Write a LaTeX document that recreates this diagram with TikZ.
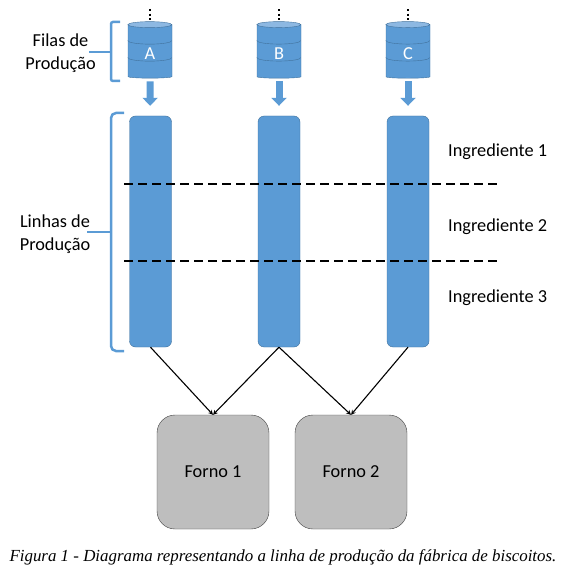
\documentclass[tikz,border=0pt]{standalone}
\usepackage{fontspec}
\setmainfont{Carlito}
\newfontfamily\legendafont{Liberation Serif}
\usetikzlibrary{shapes,arrows,arrows.meta}
\definecolor{azul}{HTML}{5B9BD5}
\definecolor{azulclaro}{HTML}{8DB8E2}
\definecolor{azulborda}{HTML}{41719C}
\definecolor{cinza}{HTML}{BEBEBE}

\begin{document}
\begin{tikzpicture}[x=1pt, y=1pt, node distance=180pt]
    % estilos dos nos
    \tikzstyle{fila} = [cylinder, shape border rotate=90, aspect=0.28, minimum width=44pt, minimum height=55pt, inner sep=0pt, text height=16pt, draw=azulborda, fill=azul, text=white, font=\fontsize{18.3}{18.3}\selectfont]
    \tikzstyle{linha} = [rectangle, rounded corners=6pt, minimum width=42pt, minimum height=231pt, draw=azulborda, fill=azul]
    \tikzstyle{forno} = [rectangle, rounded corners=18pt, minimum width=112pt, minimum height=114pt, text centered, draw=black!75, fill=cinza, font=\fontsize{18.3}{18.3}\selectfont]
    \tikzstyle{rotulo} = [align=center, inner sep=0pt, font=\fontsize{18.3}{23}\selectfont]
    \tikzstyle{bloco} = [azul, line width=7pt, -{Triangle[width=15pt,length=8pt]}, shorten <=3pt, shorten >=10pt]
    \tikzstyle{arrow} = [line width=1.1pt,->,>=stealth]
    \tikzstyle{chave} = [azul, line width=2.5pt]
    \tikzstyle{corte} = [line width=2pt, dash pattern=on 9pt off 5pt]

    \useasboundingbox (0,0) rectangle (571,-572);

    % filas e linhas
    \node [fila] (filaA) at (150,-51.5) {A};
    \node [fila, right of=filaA, xshift=-51pt] (filaB) {B};
    \node [fila, right of=filaB, xshift=-51pt] (filaC) {C};
    \node [linha] (linhaA) at (150.5,-231.5) {};
    \node [linha, right of=linhaA, xshift=-51.5pt] (linhaB) {};
    \node [linha, right of=linhaB, xshift=-51pt] (linhaC) {};

    % fornos
    \node [forno] (forno1) at (213,-472) {\raisebox{-1pt}{Forno 1}};
    \node [forno, right of=forno1, xshift=-42pt] (forno2) {\raisebox{-1pt}{Forno 2}};

    % faixas dos cilindros e pontos
    \foreach \f in {filaA,filaB,filaC} {
        \draw [azulborda, fill=azulclaro] (\f.before top) arc[start angle=180, end angle=-180, x radius=22pt, y radius=3pt];
        \draw [azulborda] ([yshift=-16pt]\f.before top) arc[start angle=180, end angle=360, x radius=22pt, y radius=3.5pt];
        \draw [azulborda] ([yshift=-33pt]\f.before top) arc[start angle=180, end angle=360, x radius=22pt, y radius=3.5pt];
        \coordinate (topo\f) at ([yshift=14pt]\f.north);
        \draw [line width=2pt, dash pattern=on 2pt off 2.6pt] (topo\f) -- ([yshift=3pt]\f.north);
    }

    % setas
    \draw [bloco] (filaA) -- (linhaA);
    \draw [bloco] (filaB) -- (linhaB);
    \draw [bloco] (filaC) -- (linhaC);
    \draw [arrow] (linhaA.south) -- (forno1.north);
    \draw [arrow] (linhaB.south) -- (forno1.north);
    \draw [arrow] (linhaB.south) -- (forno2.north);
    \draw [arrow] (linhaC.south) -- (forno2.north);

    % linhas tracejadas
    \coordinate (corte1a) at (124,-184);
    \coordinate (corte1b) at (498,-184);
    \coordinate (corte2a) at (124,-261);
    \coordinate (corte2b) at (498,-261);
    \draw [corte] (corte1a) -- (corte1b);
    \draw [corte] (corte2a) -- (corte2b);

    % chaves
    \node [rotulo] (rotfilas) at (60.5,-53) {Filas de\\Produção};
    \node [rotulo] (rotlinhas) at (55,-234.5) {Linhas de\\Produção};
    \coordinate (pontafilas) at (89,-52);
    \coordinate (pontalinhas) at (87,-232);
    \draw [chave, rounded corners=2pt] (120,-22) -- (111,-22) -- (111,-81) -- (120,-81);
    \draw [chave] (pontafilas) -- (111,-52);
    \draw [chave, rounded corners=5pt] (124,-113) -- (111,-113) -- (111,-351) -- (124,-351);
    \draw [chave] (pontalinhas) -- (111,-232);

    % ingredientes
    \node [rotulo, anchor=west] (ing1) at (448,-152) {Ingrediente 1};
    \node [rotulo, anchor=west] (ing2) at (448,-227) {Ingrediente 2};
    \node [rotulo, anchor=west] (ing3) at (448,-298) {Ingrediente 3};

    % legenda
    \node [font=\legendafont\itshape\fontsize{16.9}{16.9}\selectfont, inner sep=0pt] (legenda) at (283,-557) {Figura 1 - Diagrama representando a linha de produção da fábrica de biscoitos.};
\end{tikzpicture}
\end{document}
